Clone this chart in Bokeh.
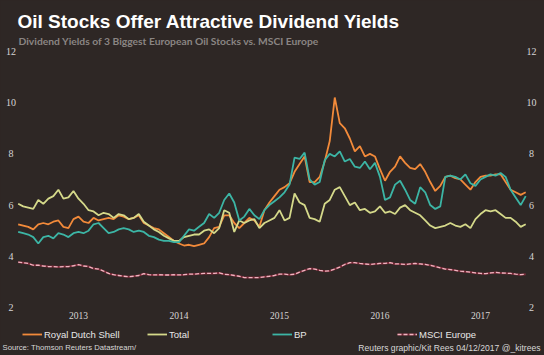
from bokeh.plotting import figure
from bokeh.models import Range1d, Label, Legend, LegendItem
from bokeh.embed import file_html
from bokeh.resources import INLINE

# ---------------- data (decimal years, dividend yield %) ----------------
DATES = [2012.90, 2012.95, 2013.00, 2013.05, 2013.10, 2013.15, 2013.20, 2013.25, 2013.30, 2013.35,
         2013.40, 2013.45, 2013.50, 2013.55, 2013.60, 2013.65, 2013.70, 2013.75, 2013.80, 2013.85,
         2013.90, 2013.95, 2014.00, 2014.05, 2014.10, 2014.15, 2014.20, 2014.25, 2014.30, 2014.35,
         2014.40, 2014.45, 2014.50, 2014.55, 2014.60, 2014.65, 2014.70, 2014.75, 2014.80, 2014.85,
         2014.90, 2014.95, 2015.00, 2015.05, 2015.10, 2015.15, 2015.20, 2015.25, 2015.30, 2015.35,
         2015.40, 2015.45, 2015.50, 2015.55, 2015.60, 2015.65, 2015.70, 2015.75, 2015.80, 2015.85,
         2015.90, 2015.95, 2016.00, 2016.05, 2016.10, 2016.15, 2016.20, 2016.25, 2016.30, 2016.35,
         2016.40, 2016.45, 2016.50, 2016.55, 2016.60, 2016.65, 2016.70, 2016.75, 2016.80, 2016.85,
         2016.90, 2016.95, 2017.00, 2017.05, 2017.10, 2017.15, 2017.20, 2017.25, 2017.30, 2017.35,
         2017.40, 2017.45, 2017.50, 2017.55, 2017.60, 2017.65, 2017.70, 2017.75, 2017.80, 2017.85,
         2017.90, 2017.95]

SHELL = [5.25, 5.20, 5.15, 5.05, 5.25, 5.30, 5.25, 5.35, 5.40, 5.15,
         5.10, 5.45, 5.55, 5.35, 5.30, 5.50, 5.40, 5.45, 5.50, 5.45,
         5.60, 5.55, 5.45, 5.50, 5.60, 5.30, 5.20, 5.10, 5.05, 4.90,
         4.75, 4.60, 4.50, 4.42, 4.45, 4.40, 4.45, 4.50, 4.75, 5.10,
         5.15, 5.60, 5.60, 5.30, 5.10, 5.30, 5.50, 5.40, 5.15, 5.80,
         6.10, 6.35, 6.60, 6.70, 6.85, 7.30, 7.60, 7.90, 6.90, 6.90,
         7.10, 7.70, 8.50, 10.20, 9.20, 9.00, 8.60, 8.10, 8.30, 7.90,
         8.00, 7.90, 7.40, 6.95, 7.30, 7.50, 7.90, 7.65, 7.45, 7.40,
         7.60, 7.30, 6.90, 6.55, 6.75, 7.10, 7.15, 7.05, 7.00, 6.80,
         6.60, 6.90, 7.10, 7.15, 7.15, 7.20, 7.20, 6.90, 6.60, 6.50,
         6.40, 6.50]

TOTAL = [6.05, 5.95, 5.90, 5.85, 6.20, 6.05, 6.25, 6.35, 6.60, 6.25,
         6.30, 6.55, 6.25, 6.05, 5.80, 5.75, 5.60, 5.70, 5.65, 5.50,
         5.65, 5.60, 5.45, 5.50, 5.65, 5.35, 5.20, 5.05, 4.95, 4.80,
         4.70, 4.60, 4.60, 4.75, 4.80, 4.85, 4.85, 5.00, 5.05, 4.90,
         5.10, 5.80, 5.70, 4.95, 5.40, 5.30, 5.40, 5.45, 5.10, 5.30,
         5.40, 5.50, 5.80, 5.40, 5.50, 6.45, 6.10, 6.00, 5.50, 5.45,
         5.35, 6.05, 6.20, 6.60, 6.70, 6.35, 6.00, 6.10, 5.80, 5.85,
         5.70, 5.75, 5.95, 5.70, 5.75, 5.65, 5.90, 6.00, 5.80, 5.70,
         5.60, 5.40, 5.20, 5.10, 5.15, 5.20, 5.30, 5.20, 5.15, 5.25,
         5.10, 5.45, 5.65, 5.80, 5.75, 5.80, 5.65, 5.50, 5.50, 5.35,
         5.15, 5.25]

BP = [4.95, 4.90, 4.85, 4.75, 4.50, 4.75, 4.80, 4.70, 4.90, 4.85,
      4.75, 4.90, 4.95, 4.90, 5.00, 5.25, 5.30, 5.10, 4.90, 4.95,
      5.05, 5.10, 5.05, 4.95, 5.00, 4.95, 4.80, 4.75, 4.65, 4.60,
      4.60, 4.55, 4.55, 4.80, 5.05, 5.00, 5.15, 5.30, 5.65, 5.50,
      5.70, 6.20, 6.45, 6.10, 5.40, 5.55, 5.85, 5.60, 5.45, 5.80,
      6.00, 6.15, 6.30, 6.50, 6.80, 7.85, 7.80, 8.05, 7.00, 6.80,
      6.90, 7.75, 8.00, 7.90, 8.10, 7.70, 7.80, 7.50, 7.45, 7.70,
      7.40, 7.65, 7.10, 6.20, 6.30, 6.80, 6.95, 6.60, 6.20, 6.05,
      6.70, 6.50, 6.00, 5.85, 5.95, 7.10, 7.15, 7.10, 7.00, 7.20,
      6.85, 6.75, 7.00, 7.10, 7.20, 7.15, 7.25, 7.10, 6.60, 6.30,
      6.00, 6.35]

MSCI = [3.77, 3.75, 3.72, 3.65, 3.65, 3.62, 3.60, 3.60, 3.58, 3.60,
        3.60, 3.63, 3.67, 3.62, 3.60, 3.52, 3.50, 3.42, 3.33, 3.28,
        3.25, 3.22, 3.20, 3.22, 3.25, 3.32, 3.28, 3.27, 3.28, 3.27,
        3.27, 3.28, 3.27, 3.28, 3.30, 3.30, 3.32, 3.33, 3.33, 3.33,
        3.35, 3.30, 3.28, 3.25, 3.22, 3.17, 3.17, 3.17, 3.17, 3.20,
        3.22, 3.25, 3.30, 3.30, 3.28, 3.30, 3.38, 3.45, 3.52, 3.50,
        3.45, 3.42, 3.43, 3.50, 3.58, 3.68, 3.75, 3.75, 3.72, 3.70,
        3.68, 3.70, 3.72, 3.72, 3.75, 3.70, 3.70, 3.68, 3.70, 3.72,
        3.70, 3.68, 3.65, 3.60, 3.55, 3.50, 3.48, 3.45, 3.42, 3.40,
        3.38, 3.35, 3.33, 3.32, 3.35, 3.37, 3.35, 3.34, 3.33, 3.30,
        3.28, 3.30]

Y_TICKS = [2, 4, 6, 8, 10, 12]
Y_TICK_LABELS = ["2", "4", "6", "8", "10", "12"]
YEAR_POS = [2013.5, 2014.5, 2015.5, 2016.5, 2017.5]
YEAR_LABELS = ["2013", "2014", "2015", "2016", "2017"]
SERIES_NAMES = ["Royal Dutch Shell", "Total", "BP", "MSCI Europe"]

TITLE = "Oil Stocks Offer Attractive Dividend Yields"
SUBTITLE = "Dividend Yields of 3 Biggest European Oil Stocks vs. MSCI Europe"
SOURCE = "Source: Thomson Reuters Datastream/"
CREDIT = "Reuters graphic/Kit Rees 04/12/2017 @_kitrees"

# ---------------- styling / layout ----------------
W, H = 544, 355
BG = "#2e2725"
C_SHELL = "#f28a3a"
C_TOTAL = "#d5d98a"
C_BP = "#3cb5a5"
C_MSCI_BG = "#7a2c3a"
C_MSCI = "#f0b4c0"
TICK_COLOR = "#d6d6d6"
SANS = "Liberation Sans"

# visible window of the data space (the plot frame fills the whole canvas)
X_VIEW = (2012.724, 2018.137)
Y_VIEW = (0.125, 13.99)

p = figure(width=W, height=H, output_backend="svg", toolbar_location=None,
           x_range=Range1d(*X_VIEW), y_range=Range1d(*Y_VIEW),
           x_axis_location=None, y_axis_location=None,
           min_border=0, background_fill_color=BG, border_fill_color=BG,
           outline_line_color=None)
p.grid.visible = False

r_shell = p.line(DATES, SHELL, line_color=C_SHELL, line_width=1.8)
r_total = p.line(DATES, TOTAL, line_color=C_TOTAL, line_width=1.8)
r_bp = p.line(DATES, BP, line_color=C_BP, line_width=1.8)
r_msci_bg = p.line(DATES, MSCI, line_color=C_MSCI_BG, line_width=2.0)
r_msci = p.line(DATES, MSCI, line_color=C_MSCI, line_width=1.3, line_dash="4 2")

# y tick labels on both sides
for v, t in zip(Y_TICKS, Y_TICK_LABELS):
    for sx in (10.5, 531):
        p.add_layout(Label(x=sx, y=v, x_units="screen", y_units="data", text=t,
                           text_align="center", text_baseline="middle",
                           text_font="Liberation Serif", text_font_size="10px",
                           text_color=TICK_COLOR))
# x tick labels (centred on each year)
for v, t in zip(YEAR_POS, YEAR_LABELS):
    p.add_layout(Label(x=v, y=H - 315, x_units="data", y_units="screen", text=t,
                       text_align="center", text_baseline="middle",
                       text_font="Liberation Serif", text_font_size="9.5px",
                       text_color=TICK_COLOR))

legend = Legend(items=[LegendItem(label=SERIES_NAMES[0], renderers=[r_shell]),
                       LegendItem(label=SERIES_NAMES[1], renderers=[r_total]),
                       LegendItem(label=SERIES_NAMES[2], renderers=[r_bp]),
                       LegendItem(label=SERIES_NAMES[3], renderers=[r_msci_bg, r_msci])],
                orientation="horizontal", location=(22, H - 340),
                glyph_width=20, glyph_height=12, label_height=12, label_width=100,
                label_standoff=2, spacing=3, padding=0, margin=0,
                background_fill_alpha=0, border_line_color=None,
                label_text_color="#e8e8e8", label_text_font=SANS,
                label_text_font_size="9.5px")
p.add_layout(legend)

p.add_layout(Label(x=17, y=H - 21, x_units="screen", y_units="screen", text=TITLE,
                   text_font=SANS, text_font_style="bold", text_font_size="19px",
                   text_color="#ffffff", text_baseline="alphabetic"))
p.add_layout(Label(x=18, y=H - 40, x_units="screen", y_units="screen", text=SUBTITLE,
                   text_font="Lato", text_font_style="bold", text_font_size="10.3px",
                   text_color="#8a8583", text_baseline="alphabetic"))
p.add_layout(Label(x=2, y=H - 347, x_units="screen", y_units="screen", text=SOURCE,
                   text_font=SANS, text_font_size="7.7px",
                   text_color="#d8d8d8", text_baseline="middle"))
p.add_layout(Label(x=540, y=H - 347, x_units="screen", y_units="screen", text=CREDIT,
                   text_font=SANS, text_font_size="8.6px", text_align="right",
                   text_color="#d8d8d8", text_baseline="middle"))

html = file_html(p, INLINE, title="Oil Stocks Dividend Yields")
html = html.replace("</head>", "<style>body{background-color:%s;}</style></head>" % BG)
open("out.html", "w").write(html)
